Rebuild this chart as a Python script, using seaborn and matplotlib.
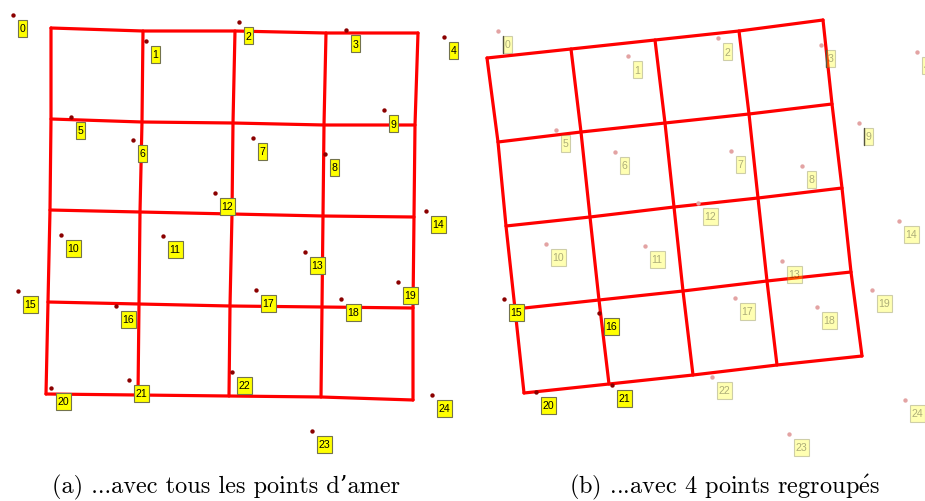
import matplotlib
matplotlib.use("Agg")
import matplotlib.pyplot as plt
import seaborn as sns
import pandas as pd
import numpy as np
from matplotlib.patches import Rectangle

# ---------------- data (pixel coordinates) ----------------
# panel (a): 5x5 grid nodes (rows top->bottom, cols left->right)
grid_a_x = [[51, 143, 235, 326, 418],
            [51, 142, 233, 324, 415],
            [50, 140, 232, 323, 414],
            [48, 139, 230, 322, 413],
            [46, 138, 229, 321, 413]]
grid_a_y = [[29, 32, 32, 34, 34],
            [120, 123, 124, 126, 126],
            [211, 213, 215, 217, 218],
            [303, 305, 307, 308, 309],
            [395, 396, 397, 398, 401]]

# panel (b)
grid_b_x = [[487, 571, 655, 739, 823],
            [498, 581, 665, 749, 832],
            [506, 590, 674, 758, 842],
            [515, 599, 683, 767, 851],
            [524, 609, 693, 777, 862]]
grid_b_y = [[59, 50, 41, 32, 21],
            [143, 133, 124, 115, 105],
            [227, 218, 208, 199, 189],
            [310, 301, 292, 282, 273],
            [394, 385, 376, 366, 357]]

point_ids = list(range(25))
pts_a_x = [13, 146, 239, 346, 444, 71, 133, 253, 325, 384,
           61, 163, 215, 305, 426, 18, 116, 256, 341, 398,
           51, 129, 232, 312, 432]
pts_a_y = [16, 42, 23, 31, 38, 118, 141, 139, 155, 111,
           236, 237, 194, 253, 212, 292, 307, 291, 300, 283,
           389, 381, 373, 432, 396]

pts_b_x = [498, 628, 718, 821, 917, 556, 615, 731, 802, 859,
           546, 645, 698, 782, 899, 504, 599, 735, 817, 872,
           536, 612, 712, 789, 905]
pts_b_y = [32, 57, 39, 46, 53, 131, 153, 152, 167, 124,
           245, 247, 204, 262, 222, 300, 314, 299, 308, 291,
           393, 386, 378, 435, 401]
grouped_b = [15, 16, 20, 21]
marked_edge_b = [0, 3, 9]

caption_a = "(a) ...avec tous les points d\u2019amer"
caption_b = r"(b) ...avec 4 points regroup$\mathrm{\acute{e}}$s"
caption_x = [226, 724]

# ---------------- figure ----------------
sns.set_theme(style="white")
plt.rcParams['font.family'] = ['Liberation Sans', 'DejaVu Sans']
plt.rcParams['mathtext.fontset'] = 'cm'

W, H = 925, 502
fig = plt.figure(figsize=(W / 100, H / 100), dpi=100)
ax = fig.add_axes([0, 0, 1, 1])
ax.set_xlim(0, W)
ax.set_ylim(H, 0)
ax.axis("off")


def grid_frame(gx, gy, tag):
    rows = []
    gx = np.array(gx); gy = np.array(gy)
    for r in range(5):
        for c in range(5):
            rows.append(dict(x=gx[r, c], y=gy[r, c], line=f"{tag}h{r}", o=c))
    for c in range(5):
        for r in range(5):
            rows.append(dict(x=gx[r, c], y=gy[r, c], line=f"{tag}v{c}", o=r))
    return pd.DataFrame(rows)


grid_df = pd.concat([grid_frame(grid_a_x, grid_a_y, "a"),
                     grid_frame(grid_b_x, grid_b_y, "b")])
sns.lineplot(data=grid_df, x="x", y="y", units="line", estimator=None, sort=False,
             color="#ff0000", linewidth=2.3, ax=ax, legend=False, zorder=2)

DARK = "#8b0000"
PALE = "#e3a3a3"


def draw_points(px, py, faded_mask, edge_marked=()):
    df = pd.DataFrame(dict(x=px, y=py, faded=faded_mask))
    sns.scatterplot(data=df[~df.faded], x="x", y="y", color=DARK, s=10,
                    linewidth=0, ax=ax, legend=False, zorder=3)
    if df.faded.any():
        sns.scatterplot(data=df[df.faded], x="x", y="y", color=PALE, s=10,
                        linewidth=0, ax=ax, legend=False, zorder=3)
    for i, (x, y, f) in enumerate(zip(px, py, faded_mask)):
        lab = str(point_ids[i])
        w = 4 + 5.5 * len(lab)
        h = 17
        left, top = x + 4.5, y + 4.5
        alpha_face = 0.3 if f else 1.0
        ax.add_patch(Rectangle((left, top), w, h, facecolor=(1, 1, 0, alpha_face),
                               edgecolor=(0.45, 0.45, 0.3, 0.35 if f else 1.0),
                               linewidth=0.8, zorder=4))
        if i in edge_marked:
            ax.plot([left, left], [top, top + h], color="#555540", lw=1.0, zorder=4.5)
        ax.text(left + w / 2, top + h / 2 + 0.5, lab, ha="center", va="center",
                fontsize=7.6, color=(0, 0, 0, 0.32 if f else 1.0), zorder=5)


draw_points(pts_a_x, pts_a_y, np.array([False] * 25))
draw_points(pts_b_x, pts_b_y, np.array([i not in grouped_b for i in point_ids]),
            edge_marked=marked_edge_b)

for cx, cap in zip(caption_x, [caption_a, caption_b]):
    ax.text(cx, 487, cap, ha="center", va="center", fontsize=17.5,
            family=["cmr10", "DejaVu Serif"], color="black")

fig.savefig("out.png", dpi=100)
